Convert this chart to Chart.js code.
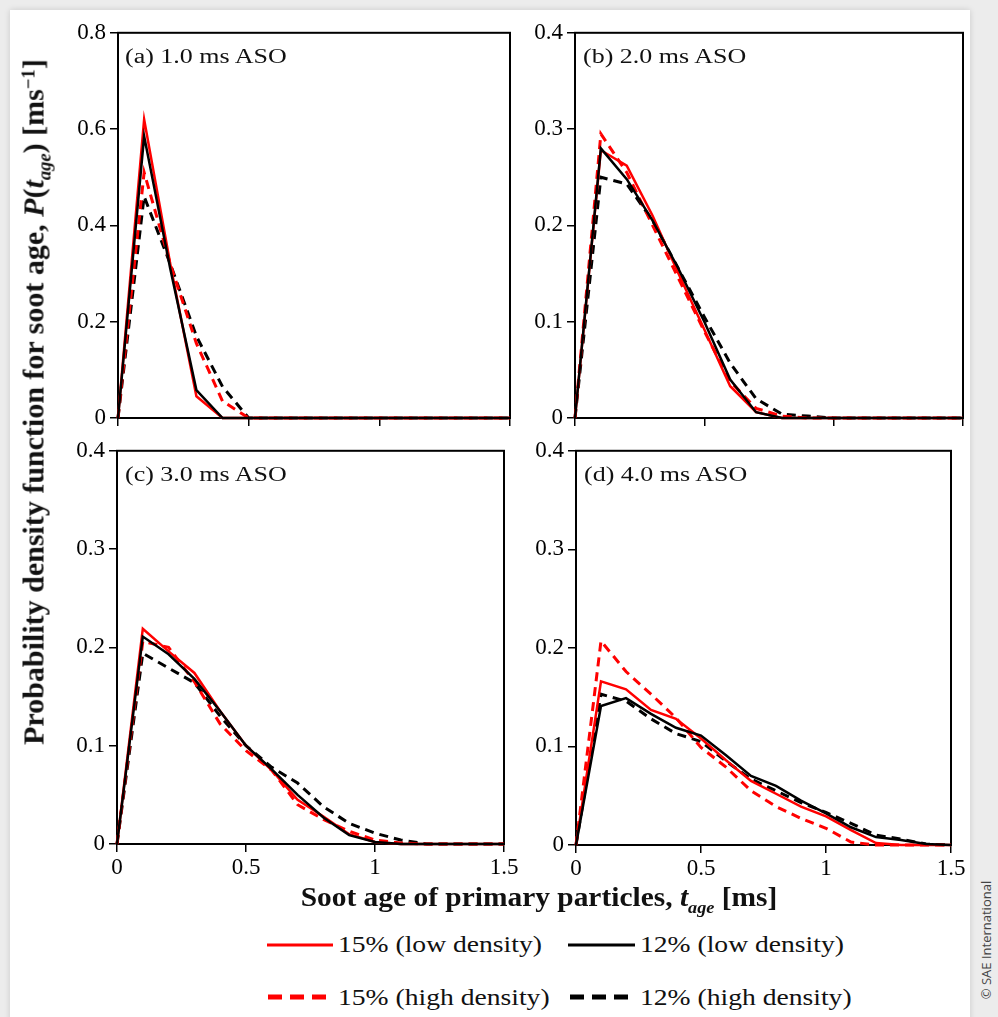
<!DOCTYPE html>
<html>
<head>
<meta charset="utf-8">
<script src="https://cdn.jsdelivr.net/npm/chart.js@4.4.0/dist/chart.umd.min.js"></script>
<style>
  body { margin: 0; width: 998px; height: 1017px; overflow: hidden; position: relative;
         background: #ececec; font-family: "Liberation Serif", "Times New Roman", serif; }
  #card { position: absolute; left: 10px; top: 10px; width: 960px; height: 1020px; background: #fff;
          box-shadow: 0 0 6px rgba(0,0,0,0.15); }
  canvas { position: absolute; }
  .panel { position: absolute; font-size: 20px; color: #111; white-space: nowrap;
           transform: scaleX(1.3); transform-origin: left center; }
  #ytitle { position: absolute; left: 36px; top: 402px; font-size: 30px; font-weight: bold; white-space: nowrap;
            transform: translate(-50%, -50%) rotate(-90deg); color: #111; }
  #xtitle { position: absolute; left: 539px; top: 900px; font-size: 27px; font-weight: bold; white-space: nowrap;
            transform: translate(-50%, -50%) scaleX(1.09); color: #111; }
  .leg { position: absolute; font-size: 23px; white-space: nowrap; color: #111;
         transform: translateY(-50%) scaleX(1.2); transform-origin: left center; }
  sub, sup { font-size: 62%; }
  sup { vertical-align: 0.5em; }
  #copy { position: absolute; left: 986px; top: 940px; font-family: "Open Sans", sans-serif; font-size: 13px;
          color: #444; white-space: nowrap; transform: translate(-50%, -50%) rotate(-90deg); }
</style>
</head>
<body>
<div id="card"></div>
<canvas id="ca"></canvas>
<canvas id="cb"></canvas>
<canvas id="cc"></canvas>
<canvas id="cd"></canvas>

<div class="panel" style="left:125px; top:45px;">(a) 1.0 ms ASO</div>
<div class="panel" style="left:583px; top:45px;">(b) 2.0 ms ASO</div>
<div class="panel" style="left:125px; top:463px;">(c) 3.0 ms ASO</div>
<div class="panel" style="left:584px; top:463px;">(d) 4.0 ms ASO</div>

<div id="ytitle">Probability density function for soot age, <i>P</i>(<i>t<sub>age</sub></i>) [ms<sup>−1</sup>]</div>
<div id="xtitle">Soot age of primary particles, <i>t<sub>age</sub></i> [ms]</div>

<svg style="position:absolute;left:0;top:930px" width="998" height="80">
  <line x1="267" y1="15" x2="333" y2="15" stroke="#ff0000" stroke-width="3"/>
  <line x1="568" y1="15" x2="635" y2="15" stroke="#000" stroke-width="3"/>
  <line x1="268" y1="67" x2="333" y2="67" stroke="#ff0000" stroke-width="5" stroke-dasharray="14,8"/>
  <line x1="570" y1="67" x2="635" y2="67" stroke="#000" stroke-width="5" stroke-dasharray="14,8"/>
</svg>
<div class="leg" style="left:338px; top:945px;">15% (low density)</div>
<div class="leg" style="left:640px; top:945px;">12% (low density)</div>
<div class="leg" style="left:338px; top:998px;">15% (high density)</div>
<div class="leg" style="left:640px; top:998px;">12% (high density)</div>

<div id="copy">© SAE International</div>

<script>
// soot age axis (ms)
const tAge = [0, 0.1, 0.2, 0.3, 0.4, 0.5, 0.6, 0.7, 0.8, 0.9, 1.0, 1.1, 1.2, 1.3, 1.4, 1.5];
const xTicks = [0, 0.5, 1, 1.5];

// (a) 1.0 ms ASO
const aRedLow    = [0, 0.62, 0.32, 0.045, 0, 0, 0, 0, 0, 0, 0, 0, 0, 0, 0, 0];
const aBlackLow  = [0, 0.585, 0.31, 0.058, 0, 0, 0, 0, 0, 0, 0, 0, 0, 0, 0, 0];
const aRedHigh   = [0, 0.51, 0.32, 0.155, 0.035, 0, 0, 0, 0, 0, 0, 0, 0, 0, 0, 0];
const aBlackHigh = [0, 0.46, 0.32, 0.17, 0.065, 0, 0, 0, 0, 0, 0, 0, 0, 0, 0, 0];

// (b) 2.0 ms ASO
const bRedLow    = [0, 0.278, 0.262, 0.21, 0.15, 0.092, 0.033, 0.006, 0, 0, 0, 0, 0, 0, 0, 0];
const bBlackLow  = [0, 0.28, 0.248, 0.205, 0.155, 0.1, 0.04, 0.006, 0, 0, 0, 0, 0, 0, 0, 0];
const bRedHigh   = [0, 0.295, 0.255, 0.2, 0.145, 0.09, 0.038, 0.01, 0.002, 0, 0, 0, 0, 0, 0, 0];
const bBlackHigh = [0, 0.25, 0.243, 0.205, 0.155, 0.105, 0.057, 0.02, 0.004, 0.002, 0, 0, 0, 0, 0, 0];

// (c) 3.0 ms ASO
const cRedLow    = [0, 0.219, 0.196, 0.174, 0.135, 0.1, 0.075, 0.045, 0.028, 0.01, 0.002, 0, 0, 0, 0, 0];
const cBlackLow  = [0, 0.211, 0.193, 0.168, 0.135, 0.1, 0.076, 0.05, 0.027, 0.009, 0.002, 0, 0, 0, 0, 0];
const cRedHigh   = [0, 0.206, 0.2, 0.165, 0.122, 0.095, 0.075, 0.04, 0.025, 0.013, 0.004, 0.001, 0, 0, 0, 0];
const cBlackHigh = [0, 0.194, 0.179, 0.164, 0.13, 0.1, 0.078, 0.062, 0.038, 0.021, 0.011, 0.004, 0, 0, 0, 0];

// (d) 4.0 ms ASO
const dRedLow    = [0, 0.166, 0.158, 0.137, 0.128, 0.108, 0.086, 0.065, 0.052, 0.039, 0.029, 0.015, 0.002, 0, 0, 0];
const dBlackLow  = [0, 0.141, 0.149, 0.133, 0.119, 0.111, 0.091, 0.07, 0.06, 0.045, 0.032, 0.018, 0.008, 0.005, 0.001, 0];
const dRedHigh   = [0, 0.207, 0.176, 0.153, 0.129, 0.099, 0.079, 0.055, 0.039, 0.027, 0.017, 0.003, 0, 0, 0, 0];
const dBlackHigh = [0, 0.153, 0.146, 0.128, 0.113, 0.105, 0.085, 0.067, 0.055, 0.043, 0.033, 0.022, 0.01, 0.006, 0.001, 0];

const RED = '#ff0000';
const BLACK = '#000000';
const tickFont = { family: 'Liberation Serif', size: 23 };

// box around each plot area, drawn under the curves
const framePlugin = {
  id: 'frame',
  beforeDatasetsDraw(chart) {
    const a = chart.chartArea, c = chart.ctx;
    c.save();
    c.strokeStyle = '#000';
    c.lineWidth = 2;
    c.strokeRect(a.left, a.top, a.right - a.left, a.bottom - a.top);
    c.restore();
  }
};

function pts(vals) {
  return vals.map((v, i) => ({ x: tAge[i], y: v }));
}

function ds(vals, color, dashed) {
  return {
    data: pts(vals),
    borderColor: color,
    borderWidth: dashed ? 3 : 2.5,
    borderDash: dashed ? [9, 6] : [],
    pointRadius: 0,
    tension: 0,
    fill: false,
    clip: 6
  };
}

// L, T, R, B = plot area box on the page
function panel(id, box, yMax, yStep, showX, redLow, blackLow, redHigh, blackHigh) {
  const [L, T, R, B] = box;
  const padL = 70, padT = 15, padR = 25, padB = 45;
  const cv = document.getElementById(id);
  cv.width = R - L + padL + padR;
  cv.height = B - T + padT + padB;
  cv.style.left = (L - padL) + 'px';
  cv.style.top = (T - padT) + 'px';

  new Chart(cv, {
    type: 'line',
    data: {
      datasets: [
        ds(blackLow, BLACK, false),
        ds(redLow, RED, false),
        ds(redHigh, RED, true),
        ds(blackHigh, BLACK, true)
      ]
    },
    options: {
      responsive: false,
      animation: false,
      devicePixelRatio: 1,
      layout: { padding: { top: padT, right: padR, left: 0, bottom: 0 } },
      plugins: { legend: { display: false }, tooltip: { enabled: false } },
      scales: {
        x: {
          type: 'linear',
          min: 0, max: 1.5,
          afterFit: s => { s.height = padB; },
          afterBuildTicks: s => { s.ticks = xTicks.map(v => ({ value: v })); },
          ticks: {
            autoSkip: false,
            font: tickFont, color: '#000', padding: 2,
            callback: v => showX ? String(v) : ''
          },
          grid: { drawOnChartArea: false, drawTicks: true, tickLength: 8, color: '#000', lineWidth: 1.5 },
          border: { display: true, color: '#000', width: 2 }
        },
        y: {
          min: 0, max: yMax,
          afterFit: s => { s.width = padL; },
          ticks: { stepSize: yStep, font: tickFont, color: '#000', padding: 4 },
          grid: { drawOnChartArea: false, drawTicks: true, tickLength: 8, color: '#000', lineWidth: 1.5 },
          border: { display: true, color: '#000', width: 2 }
        }
      }
    },
    plugins: [framePlugin]
  });
}

panel('ca', [118, 30, 510, 418], 0.8, 0.2, false, aRedLow, aBlackLow, aRedHigh, aBlackHigh);
panel('cb', [575, 30, 963, 418], 0.4, 0.1, false, bRedLow, bBlackLow, bRedHigh, bBlackHigh);
panel('cc', [117, 448, 504, 844], 0.4, 0.1, true, cRedLow, cBlackLow, cRedHigh, cBlackHigh);
panel('cd', [576, 448, 951, 845], 0.4, 0.1, true, dRedLow, dBlackLow, dRedHigh, dBlackHigh);
</script>
</body>
</html>
